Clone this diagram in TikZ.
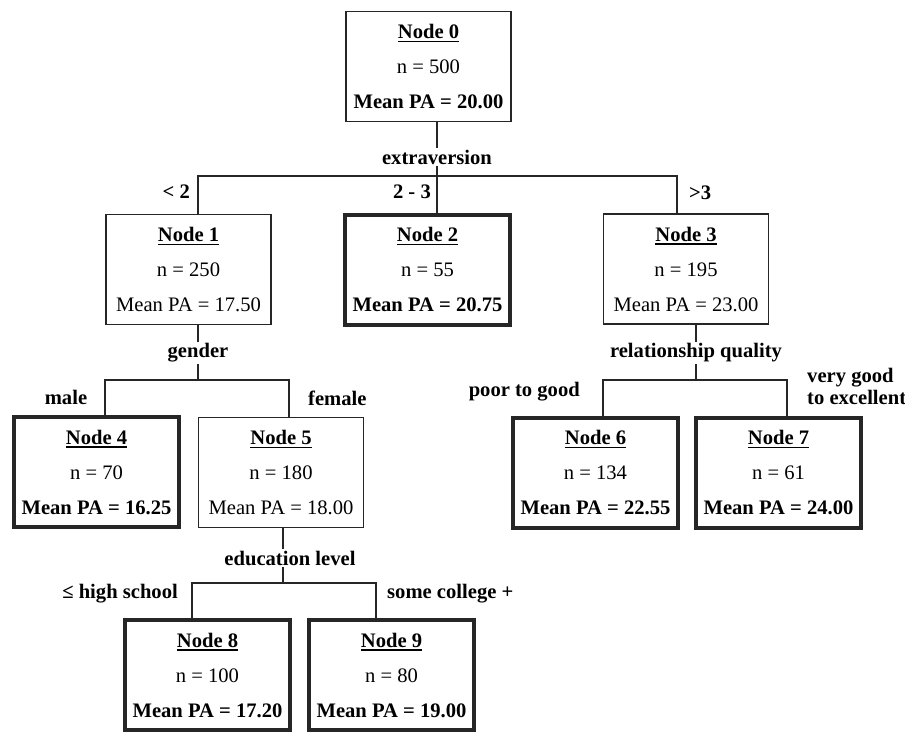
\documentclass[tikz,border=0pt]{standalone}
\usepackage{fontspec}
\setmainfont{Liberation Serif}
\usepackage{tikz}
\newcommand{\headline}[1]{\setbox0\hbox{\bfseries #1}\rlap{\rule[-3.5pt]{\wd0}{1.3pt}}\box0}

\begin{document}
\begin{tikzpicture}[
  x=1pt, y=-1pt,
  leaf/.style={draw=black!85, line width=1.3pt, fill=white, minimum width=165pt, minimum height=110pt, inner sep=0pt, align=center, font=\fontsize{20.6}{35}\selectfont},
  final/.style={leaf, line width=4pt},
  split/.style={fill=white, inner sep=2pt, font=\fontsize{20.6}{24}\selectfont\bfseries},
  cut/.style={inner sep=0pt, font=\fontsize{20.6}{22}\selectfont\bfseries},
  link/.style={draw=black!85, line width=1.3pt}]
\useasboundingbox (0,0) rectangle (905,731);
% boxes
\node[leaf] (n0) at (428.5,66.5) {\headline{Node 0}\\n = 500\\\textbf{Mean PA = 20.00}};
\node[leaf] (n1) at (188.5,269.5) {\headline{Node 1}\\n = 250\\Mean PA = 17.50};
\node[final] (n2) at (427.5,269.5) {\headline{Node 2}\\n = 55\\\textbf{Mean PA = 20.75}};
\node[leaf] (n3) at (686,269) {\headline{Node 3}\\n = 195\\Mean PA = 23.00};
\node[final] (n4) at (96.5,472) {\headline{Node 4}\\n = 70\\\textbf{Mean PA = 16.25}};
\node[leaf] (n5) at (281,472.5) {\headline{Node 5}\\n = 180\\Mean PA = 18.00};
\node[final] (n6) at (595.5,472.5) {\headline{Node 6}\\n = 134\\\textbf{Mean PA = 22.55}};
\node[final] (n7) at (778.5,472.5) {\headline{Node 7}\\n = 61\\\textbf{Mean PA = 24.00}};
\node[final] (n8) at (207.5,675) {\headline{Node 8}\\n = 100\\\textbf{Mean PA = 17.20}};
\node[final] (n9) at (391.5,675) {\headline{Node 9}\\n = 80\\\textbf{Mean PA = 19.00}};
% branch points
\coordinate (b0) at (437,176); \coordinate (b0l) at (198,176); \coordinate (b0r) at (677,176);
\coordinate (b1) at (198,380); \coordinate (b1l) at (105,380); \coordinate (b1r) at (289,380);
\coordinate (b3) at (696,380); \coordinate (b3l) at (603,380); \coordinate (b3r) at (787,380);
\coordinate (b5) at (283,583); \coordinate (b5l) at (192,583); \coordinate (b5r) at (376,583);
% connectors
\draw[link] (n0.south -| b0) -- (b0);
\draw[link] (b0) -- (b0 |- n2.north);
\draw[link] (b0l |- n1.north) -- (b0l) -- (b0r) -- (b0r |- n3.north);
\draw[link] (n1.south -| b1) -- (b1);
\draw[link] (b1l |- n4.north) -- (b1l) -- (b1r) -- (b1r |- n5.north);
\draw[link] (n3.south -| b3) -- (b3);
\draw[link] (b3l |- n6.north) -- (b3l) -- (b3r) -- (b3r |- n7.north);
\draw[link] (n5.south -| b5) -- (b5);
\draw[link] (b5l |- n8.north) -- (b5l) -- (b5r) -- (b5r |- n9.north);
% split variables
\node[split] (s0) at (437,157) {extraversion};
\node[split] (s1) at (198,353) {gender};
\node[split] (s3) at (696,353) {relationship quality};
\node[split] (s5) at (290,558) {education level};
% cut labels
\node[cut, anchor=east] (c1) at (190,192) {< 2};
\node[cut, anchor=east] (c2) at (431,192) {2 - 3};
\node[cut, anchor=west] (c3) at (689,193) {>3};
\node[cut] (c4) at (66,397) {male};
\node[cut, anchor=west] (c5) at (308,398) {female};
\node[cut, anchor=east] (c6) at (580,392) {poor to good};
\node[cut, anchor=west, align=left] (c7) at (807,386) {very good\\to excellent};
\node[cut, anchor=east] (c8) at (178,594) {≤ high school};
\node[cut, anchor=west] (c9) at (387,594) {some college +};
\end{tikzpicture}
\end{document}
